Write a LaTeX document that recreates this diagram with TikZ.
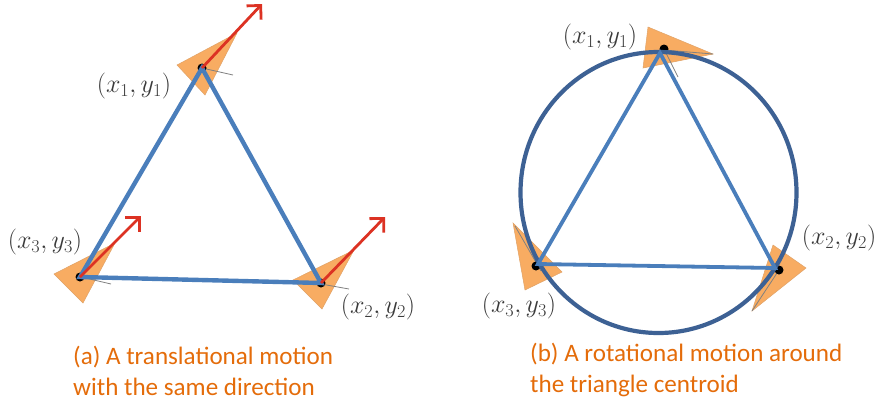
\documentclass[tikz,border=0pt]{standalone}
\usepackage{fix-cm}
\usepackage{fontspec}
\setmainfont{Carlito}
\usetikzlibrary{arrows.meta}

\definecolor{edgeblue}{HTML}{4A7EBB}
\definecolor{ringblue}{HTML}{3D6194}
\definecolor{bodyorange}{HTML}{F8AC62}
\definecolor{arrowred}{HTML}{DC3223}
\definecolor{captionorange}{HTML}{E46C0A}
\definecolor{labelgrey}{HTML}{3A3A3A}

\newcommand*{\ringx}{658.5}
\newcommand*{\ringy}{192.5}

\begin{document}
\begin{tikzpicture}
[
	x=1pt,
	y=-1pt,
	closedpt/.style={circle,fill=black,inner sep=0pt,minimum size=9pt},
	robotbody/.style={fill=bodyorange,draw=bodyorange!80!gray,line width=0.5pt},
	whisker/.style={draw=gray,line width=0.8pt},
	edgeline/.style={draw=edgeblue,line width=4.4pt,line cap=round},
	ringline/.style={draw=ringblue,line width=4.2pt},
	motion/.style={draw=arrowred,line width=2.8pt,-{Straight Barb[length=10pt,width=20pt,line width=2.8pt]}},
	poselabel/.style={text=labelgrey,font=\fontsize{26}{30}\selectfont,inner sep=0pt},
	caption/.style={text=captionorange,font=\fontsize{25.1}{31}\selectfont,align=left,anchor=north west,inner sep=0pt}
]

	\useasboundingbox (0,0) rectangle (883,402);

	% left picture
	\fill[robotbody] (177,65) -- (237,33) -- (205,95) -- cycle;
	\fill[robotbody] (54,274) -- (115,243) -- (83,303) -- cycle;
	\fill[robotbody] (293,280) -- (354,250) -- (322,309) -- cycle;
	\draw[whisker] (202,68) -- (233,75);
	\draw[whisker] (81,277) -- (111,284);
	\draw[whisker] (321,284) -- (349,289);

	\node[closedpt] at (202,68) (la) {};
	\node[closedpt] at (321,283) (lb) {};
	\node[closedpt] at (80,277) (lc) {};

	\draw[edgeline] (la.center) -- (lb.center) -- (lc.center) -- cycle;

	\coordinate (latip) at (262,4);
	\coordinate (lbtip) at (385,217);
	\coordinate (lctip) at (141,216);
	\draw[motion] (la.center) -- (latip);
	\draw[motion] (lb.center) -- (lbtip);
	\draw[motion] (lc.center) -- (lctip);

	\node[poselabel] at (134,86) (lalabel) {$(x_1,y_1)$};
	\node[poselabel] at (378,307) (lblabel) {$(x_2,y_2)$};
	\node[poselabel] at (45,242) (lclabel) {$(x_3,y_3)$};

	\node[caption] at (73,346) (lcaption) {(a) A translational motion\\with the same direction};

	% right picture
	\fill[robotbody] (648,27) -- (713,54) -- (643,68) -- cycle;
	\fill[robotbody] (513,223) -- (562,272) -- (525,290) -- cycle;
	\fill[robotbody] (773,245) -- (806,268) -- (752,311) -- cycle;
	\draw[whisker] (664,49) -- (678,77);
	\draw[whisker] (664,50) -- (713,54);
	\draw[whisker] (515,226) -- (541,271);
	\draw[whisker] (752,311) -- (779,270);

	\node[closedpt] at (664,49) (ra) {};
	\node[closedpt] at (779,270) (rb) {};
	\node[closedpt] at (536,266) (rc) {};

	\draw[ringline] (\ringx,\ringy) ellipse [x radius=138,y radius=140.5];

	\coordinate (rapex) at (660,53);
	\coordinate (rbapex) at (775,268);
	\coordinate (rcapex) at (538,264);
	\draw[edgeline,line width=3.8pt] (rapex) -- (rbapex) -- (rcapex) -- cycle;

	\node[poselabel] at (600,37) (ralabel) {$(x_1,y_1)$};
	\node[poselabel] at (839,238) (rblabel) {$(x_2,y_2)$};
	\node[poselabel] at (519,306) (rclabel) {$(x_3,y_3)$};

	\node[caption] at (530,343) (rcaption) {(b) A rotational motion around\\the triangle centroid};

\end{tikzpicture}
\end{document}
